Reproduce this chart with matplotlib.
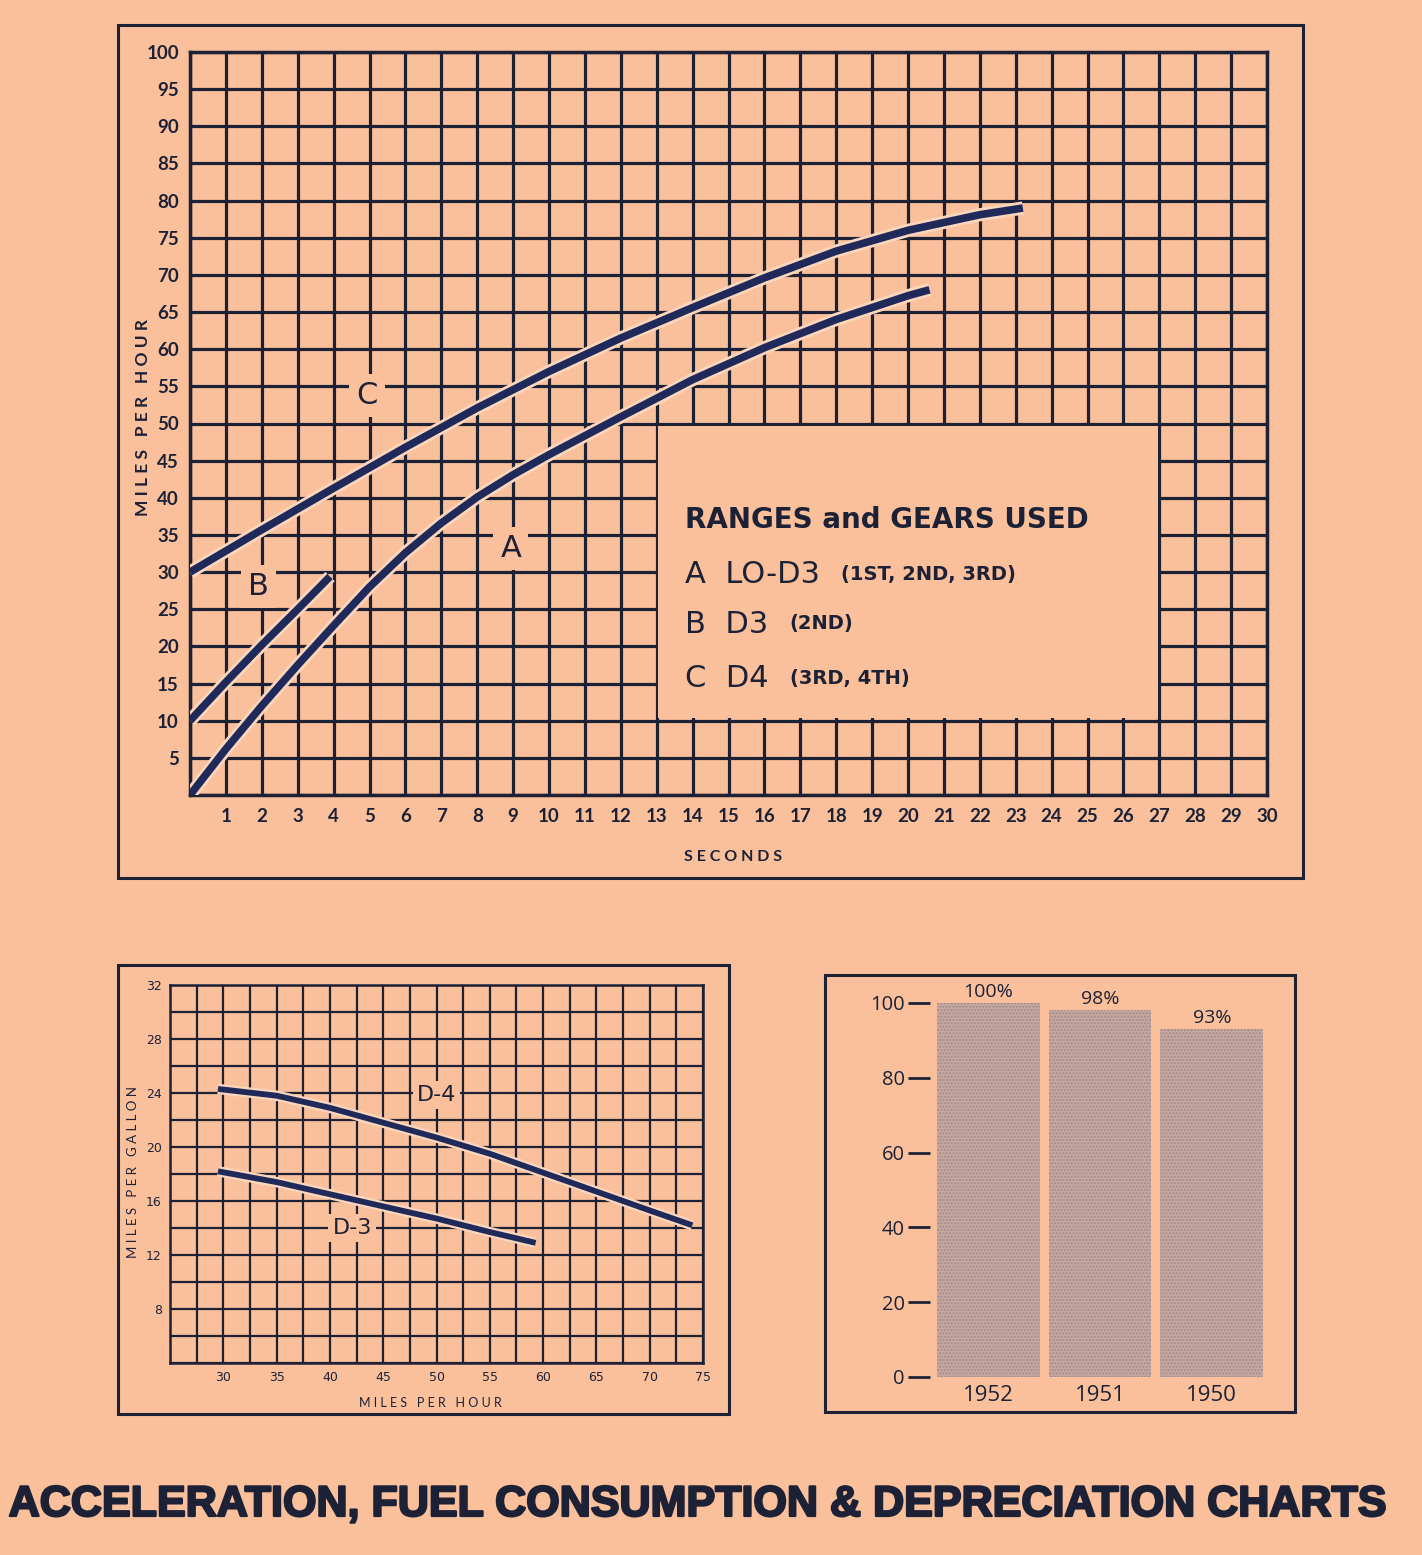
import matplotlib
matplotlib.use('Agg')
import matplotlib.pyplot as plt
import matplotlib.patheffects as pe
from matplotlib.patches import Rectangle
import numpy as np

W, H = 1422, 1555
bg = '#f9c09b'
ink = '#1d2136'
navy = '#1f2a5a'
halo = '#fbd6bd'

# acceleration chart (seconds vs miles per hour)
a_sec = [0, 1, 2, 3, 4, 5, 6, 7, 8, 9, 10, 12, 14, 16, 18, 20, 20.6]
a_mph = [0, 6.2, 12, 17.5, 22.8, 28, 32.6, 36.6, 40.1, 43.1, 45.8, 50.9, 55.9, 60.2, 64, 67.2, 68]
b_sec = [0, 1, 2, 3, 3.9]
b_mph = [10, 15.2, 20.2, 25, 29.4]
c_sec = [0, 2, 4, 6, 8, 10, 12, 14, 16, 18, 20, 22, 23.2]
c_mph = [30, 35.7, 41.3, 46.8, 52.1, 57, 61.5, 65.6, 69.6, 73.2, 76.0, 78.1, 79]
sec_ticks = list(range(0, 31))
sec_labels = [''] + [str(i) for i in range(1, 31)]
mph_ticks = list(range(0, 101, 5))
mph_labels = [''] + [str(i) for i in range(5, 101, 5)]

# fuel consumption chart
d4_mph = [29.5, 35, 40, 45, 50, 55, 60, 65, 70, 74]
d4_mpg = [24.3, 23.8, 22.9, 21.8, 20.7, 19.5, 18.1, 16.7, 15.3, 14.2]
d3_mph = [29.5, 35, 40, 45, 50, 55, 59.3]
d3_mpg = [18.2, 17.4, 16.5, 15.6, 14.7, 13.7, 12.9]
fuel_x = list(np.arange(25, 75.1, 2.5))
fuel_xlabels = ['' if (v < 30 or v % 5) else str(int(v)) for v in fuel_x]
fuel_y = list(range(4, 33, 2))
fuel_ylabels = [str(v) if (v >= 8 and v % 4 == 0) else '' for v in fuel_y]

# depreciation chart
years = ['1952', '1951', '1950']
value_pct = [100, 98, 93]
pct_ticks = [0, 20, 40, 60, 80, 100]


def box(l, t, r, b):
    return [l / W, 1 - b / H, (r - l) / W, (b - t) / H]


def frame(fig, l, t, r, b, lw=2.2):
    fig.add_artist(Rectangle((l / W, 1 - b / H), (r - l) / W, (b - t) / H,
                             transform=fig.transFigure, fill=False, ec=ink, lw=lw))


fig = plt.figure(figsize=(W / 100, H / 100), dpi=100, facecolor=bg)

# ---------------- acceleration ----------------
frame(fig, 118, 25, 1303, 878)
ax1 = fig.add_axes(box(190, 52, 1267, 795))
ax1.set_facecolor(bg)
ax1.set_xlim(0, 30)
ax1.set_ylim(0, 100)
ax1.set_xticks(sec_ticks)
ax1.set_xticklabels(sec_labels)
ax1.set_yticks(mph_ticks)
ax1.set_yticklabels(mph_labels)
ax1.set_axisbelow(True)
ax1.grid(True, color=ink, lw=2.3)
ax1.tick_params(length=0, labelsize=13.5, labelcolor=ink)
ax1.tick_params(axis='x', pad=9)
ax1.tick_params(axis='y', pad=8)
for lab in ax1.get_xticklabels() + ax1.get_yticklabels():
    lab.set_fontweight('bold')
    lab.set_family('Lato')
for s in ax1.spines.values():
    s.set_color(ink)
    s.set_linewidth(2.5)

# blank panel for the key
ax1.add_patch(Rectangle((13.05, 10.3), 13.9, 39.4, fc=bg, ec='none', zorder=2))

for xs, ys in [(a_sec, a_mph), (b_sec, b_mph), (c_sec, c_mph)]:
    ax1.plot(xs, ys, color=navy, lw=5.5, zorder=3, solid_capstyle='butt',
             solid_joinstyle='round',
             path_effects=[pe.Stroke(linewidth=9.5, foreground=halo), pe.Normal()])

for txt, x, y in [('C', 4.93, 53.8), ('A', 8.94, 33.2), ('B', 1.92, 28.0)]:
    ax1.text(x, y, txt, ha='center', va='center', fontsize=22, color=ink, family='DejaVu Sans',
             zorder=4, bbox=dict(fc=bg, ec='none', pad=5))

ax1.text(13.8, 35.9, 'RANGES and GEARS USED', fontsize=20, color=ink, family='DejaVu Sans',
         fontweight='bold', va='baseline', zorder=4)
key = [('A  LO-D3', '(1ST, 2ND, 3RD)', 28.5), ('B  D3', '(2ND)', 21.8), ('C  D4', '(3RD, 4TH)', 14.5)]
for big, small, y in key:
    t = ax1.text(13.8, y, big, fontsize=22, color=ink, family='DejaVu Sans',
                 va='baseline', zorder=4)
    ax1.annotate(small, xycoords=t, xy=(1, 0), va='bottom', fontsize=14, color=ink,
                 family='DejaVu Sans', fontweight='bold', zorder=4,
                 xytext=(15, 4), textcoords='offset points')

fig.text(143 / W, 1 - 418 / H, 'M I L E S   P E R   H O U R', rotation=90, ha='center',
         va='center', fontsize=12.5, fontweight='bold', color=ink, family='Lato')
fig.text(733 / W, 1 - 857 / H, 'S E C O N D S', ha='center', va='center',
         fontsize=11.5, fontweight='bold', color=ink, family='Lato')

# ---------------- fuel consumption ----------------
frame(fig, 118, 965, 729, 1414)
ax2 = fig.add_axes(box(170, 985, 703, 1363))
ax2.set_facecolor(bg)
ax2.set_xlim(25, 75)
ax2.set_ylim(4, 32)
ax2.set_xticks(fuel_x)
ax2.set_xticklabels(fuel_xlabels)
ax2.set_yticks(fuel_y)
ax2.set_yticklabels(fuel_ylabels)
ax2.set_axisbelow(True)
ax2.grid(True, color=ink, lw=1.6)
ax2.tick_params(length=0, labelsize=9, labelcolor=ink)
ax2.tick_params(axis='x', pad=6)
ax2.tick_params(axis='y', pad=6)
for s in ax2.spines.values():
    s.set_color(ink)
    s.set_linewidth(1.8)

for xs, ys in [(d4_mph, d4_mpg), (d3_mph, d3_mpg)]:
    ax2.plot(xs, ys, color=navy, lw=4.2, zorder=3, solid_capstyle='butt',
             solid_joinstyle='round',
             path_effects=[pe.Stroke(linewidth=7.5, foreground=halo), pe.Normal()])
ax2.text(50, 23.85, 'D-4', ha='center', va='center', fontsize=16, color=ink, family='DejaVu Sans',
         zorder=4, bbox=dict(fc=bg, ec='none', pad=3))
ax2.text(42.1, 14.0, 'D-3', ha='center', va='center', fontsize=16, color=ink, family='DejaVu Sans',
         zorder=4, bbox=dict(fc=bg, ec='none', pad=3))

fig.text(133 / W, 1 - 1172 / H, 'M I L E S   P E R   G A L L O N', rotation=90, ha='center',
         va='center', fontsize=9.5, color=ink, family='Lato')
fig.text(430 / W, 1 - 1403 / H, 'M I L E S   P E R   H O U R', ha='center', va='center',
         fontsize=9, color=ink, family='Lato')

# ---------------- depreciation ----------------
frame(fig, 825, 975, 1295, 1412)
ax3 = fig.add_axes(box(930, 1003, 1270, 1377))
ax3.set_facecolor('none')
ax3.set_xlim(-0.52, 2.52)
ax3.set_ylim(0, 100)
xs = np.arange(len(years))
ax3.bar(xs, value_pct, width=0.92, color='#c8a89e', edgecolor='#9f8a8e', hatch='.....', lw=0)
for i, v in enumerate(value_pct):
    ax3.text(i, v + 0.6, f'{v}%', ha='center', va='bottom', fontsize=14, color=ink,
             family='Open Sans', clip_on=False)
ax3.set_xticks(xs)
ax3.set_xticklabels(years)
ax3.set_yticks(pct_ticks)
for s in ax3.spines.values():
    s.set_visible(False)
ax3.tick_params(axis='x', length=0, pad=6, labelsize=16, labelcolor=ink)
ax3.tick_params(axis='y', length=16, width=2, color=ink, pad=2, labelsize=14.5, labelcolor=ink)
for lab in ax3.get_xticklabels() + ax3.get_yticklabels():
    lab.set_family('Open Sans')

fig.text(696 / W, 1 - 1505 / H, 'ACCELERATION, FUEL CONSUMPTION & DEPRECIATION CHARTS',
         ha='center', va='center', fontsize=31, fontweight='bold', color=ink,
         family='Liberation Sans',
         path_effects=[pe.withStroke(linewidth=1.6, foreground=ink)])

fig.savefig('out.png', dpi=100, facecolor=bg)
